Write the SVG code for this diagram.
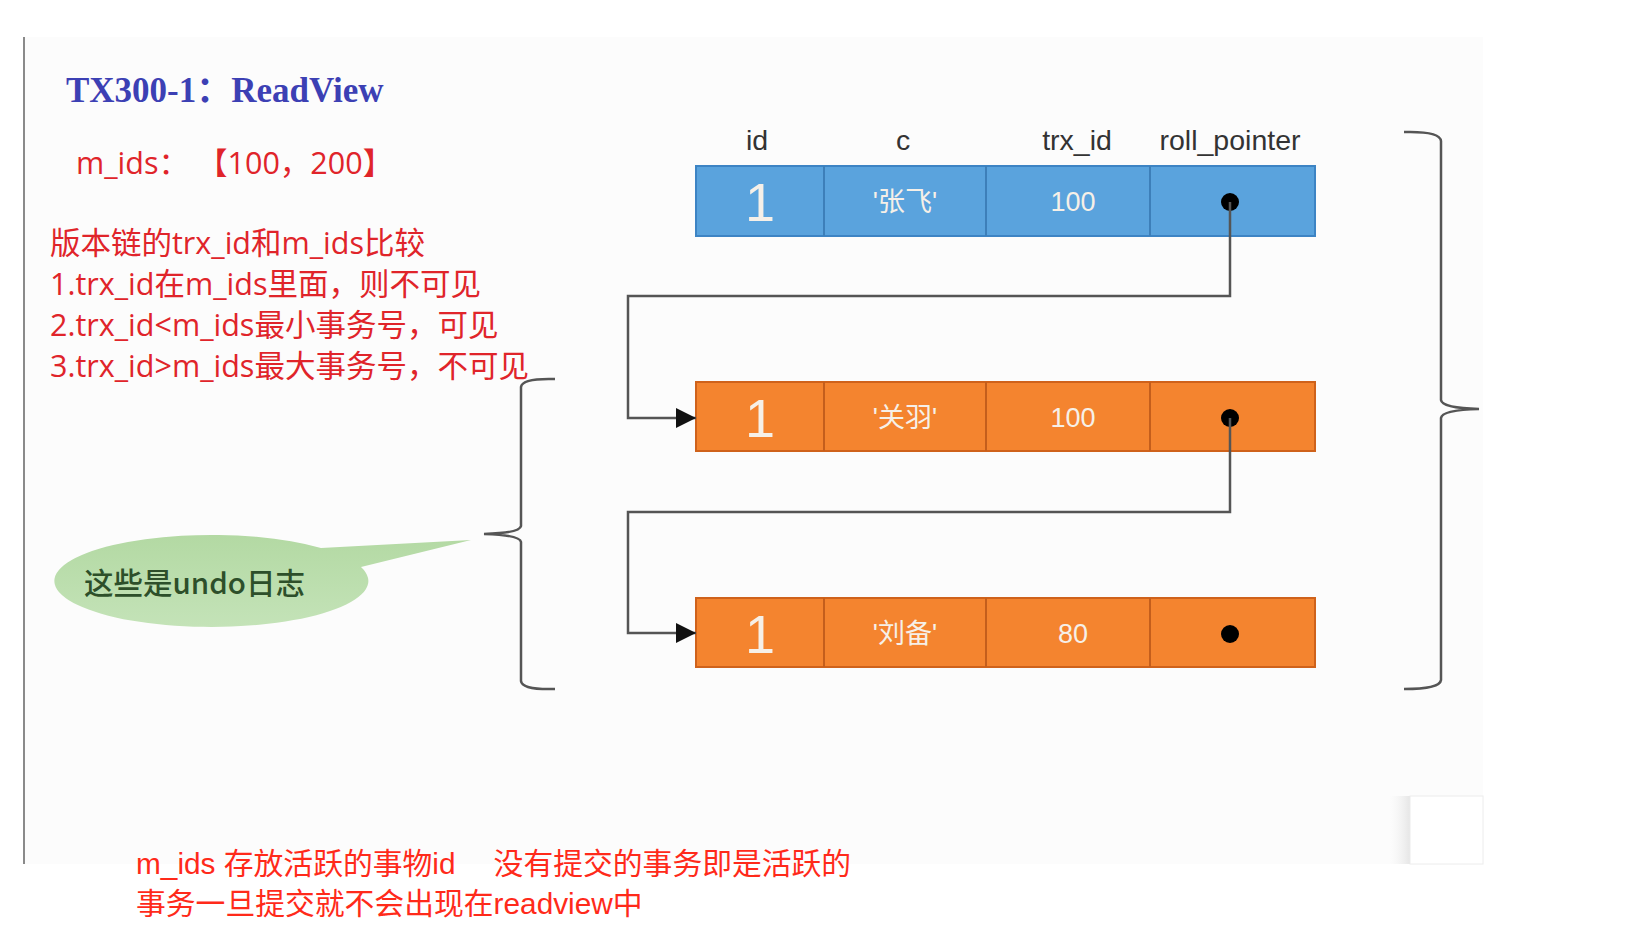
<svg xmlns="http://www.w3.org/2000/svg" width="1642" height="938" viewBox="0 0 1642 938">
<style>
.red{font-family:"Open Sans","Noto Sans CJK SC",sans-serif;fill:#e0242a;font-size:30.5px}
.title{font-family:"Liberation Serif","Noto Sans CJK SC",serif;font-weight:bold;fill:#3c40b4;font-size:35px}
.hdr{font-family:"Liberation Sans","Noto Sans CJK SC",sans-serif;fill:#333;font-size:28.5px;text-anchor:middle}
.cell{font-family:"Liberation Sans","Noto Sans CJK SC",sans-serif;fill:#f6f0e8;font-size:27px;text-anchor:middle}
.big{font-size:54px}
.blue{fill:#5aa3dd;stroke:#3d84c4;stroke-width:2}
.orange{fill:#f4842f;stroke:#cf621b;stroke-width:2}
.divb{stroke:#3d7fb9;stroke-width:2}
.divo{stroke:#c45e1c;stroke-width:2}
.conn{fill:none;stroke:#555;stroke-width:2.5}
.brace{fill:none;stroke:#555;stroke-width:2.5}
.bottom{font-family:"Liberation Sans","Noto Sans CJK SC",sans-serif;fill:#ff2a1a;font-size:29.8px}
</style>
<defs>
<marker id="arr" viewBox="0 0 20 20" refX="20" refY="10" markerWidth="20" markerHeight="20" markerUnits="userSpaceOnUse" orient="auto">
<path d="M0 0 L20 10 L0 20 Z" fill="#111"/>
</marker>
<linearGradient id="shadow" x1="0" y1="0" x2="1" y2="0">
<stop offset="0" stop-color="#f2f2f2" stop-opacity="0"/>
<stop offset="1" stop-color="#e6e6e6"/>
</linearGradient>
<linearGradient id="green" x1="0" y1="0" x2="0" y2="1">
<stop offset="0" stop-color="#b3d9a3"/>
<stop offset="1" stop-color="#c4e3b8"/>
</linearGradient>
</defs>
<rect x="0" y="0" width="1642" height="938" fill="#ffffff"/>
<rect x="24" y="37" width="1459" height="827" fill="#fcfcfc"/>
<rect x="1390" y="796" width="20" height="68" fill="url(#shadow)"/>
<rect x="1410" y="796" width="73" height="68" fill="#ffffff" stroke="#ececec" stroke-width="1"/>
<line x1="24" y1="37" x2="24" y2="864" stroke="#8a8a8a" stroke-width="2"/>

<g id="title"><text class="title" x="66" y="102">TX300-1：ReadView</text></g>
<g id="mids"><text class="red" x="76" y="174">m_ids：<tspan x="197">【100，200】</tspan></text></g>
<g id="rules">
<text class="red" x="50" y="254">版本链的trx_id和m_ids比较</text>
<text class="red" x="50" y="295">1.trx_id在m_ids里面，则不可见</text>
<text class="red" x="50" y="336">2.trx_id&lt;m_ids最小事务号，可见</text>
<text class="red" x="50" y="377">3.trx_id&gt;m_ids最大事务号，不可见</text>
</g>

<g id="headers">
<text class="hdr" x="757" y="150">id</text>
<text class="hdr" x="903" y="150">c</text>
<text class="hdr" x="1077" y="150">trx_id</text>
<text class="hdr" x="1230" y="150">roll_pointer</text>
</g>

<g id="row1">
<rect class="blue" x="696" y="166" width="619" height="70"/>
<line class="divb" x1="824" y1="166" x2="824" y2="236"/>
<line class="divb" x1="986" y1="166" x2="986" y2="236"/>
<line class="divb" x1="1150" y1="166" x2="1150" y2="236"/>
<text class="cell big" x="760" y="221">1</text>
<text class="cell" x="905" y="211">'张飞'</text>
<text class="cell" x="1073" y="211">100</text>
<circle cx="1230" cy="202" r="9" fill="#000"/>
</g>

<g id="row2">
<rect class="orange" x="696" y="382" width="619" height="69"/>
<line class="divo" x1="824" y1="382" x2="824" y2="451"/>
<line class="divo" x1="986" y1="382" x2="986" y2="451"/>
<line class="divo" x1="1150" y1="382" x2="1150" y2="451"/>
<text class="cell big" x="760" y="437">1</text>
<text class="cell" x="905" y="427">'关羽'</text>
<text class="cell" x="1073" y="427">100</text>
<circle cx="1230" cy="418" r="9" fill="#000"/>
</g>

<g id="row3">
<rect class="orange" x="696" y="598" width="619" height="69"/>
<line class="divo" x1="824" y1="598" x2="824" y2="667"/>
<line class="divo" x1="986" y1="598" x2="986" y2="667"/>
<line class="divo" x1="1150" y1="598" x2="1150" y2="667"/>
<text class="cell big" x="760" y="653">1</text>
<text class="cell" x="905" y="643">'刘备'</text>
<text class="cell" x="1073" y="643">80</text>
<circle cx="1230" cy="634" r="9" fill="#000"/>
</g>

<g id="connectors">
<path class="conn" d="M1230 202 L1230 296 L628 296 L628 418 L696 418" marker-end="url(#arr)"/>
<path class="conn" d="M1230 418 L1230 512 L628 512 L628 633 L696 633" marker-end="url(#arr)"/>
</g>

<g id="leftbrace">
<path class="brace" d="M555 379 Q522 378 521 387 L521 526 Q520 533 484 534 Q520 535 521 542 L521 681 Q522 690 555 689"/>
</g>
<g id="rightbrace">
<path class="brace" d="M1404 132 Q1440 131 1441 141 L1441 400 Q1442 408 1479 409 Q1442 410 1441 418 L1441 680 Q1440 689 1404 689"/>
</g>

<g id="bubble">
<path d="M321 548 L471 540 L361 567 A157 46 0 1 1 321 548 Z" fill="url(#green)"/>
<text x="84" y="594" font-family="'Noto Sans CJK SC',sans-serif" font-size="29.5" fill="#2d4f2a" font-weight="500">这些是undo日志</text>
</g>

<g id="note">
<text class="bottom" x="136" y="874">m_ids 存放活跃的事物id　 没有提交的事务即是活跃的</text>
<text class="bottom" x="136" y="914">事务一旦提交就不会出现在readview中</text>
</g>
</svg>
